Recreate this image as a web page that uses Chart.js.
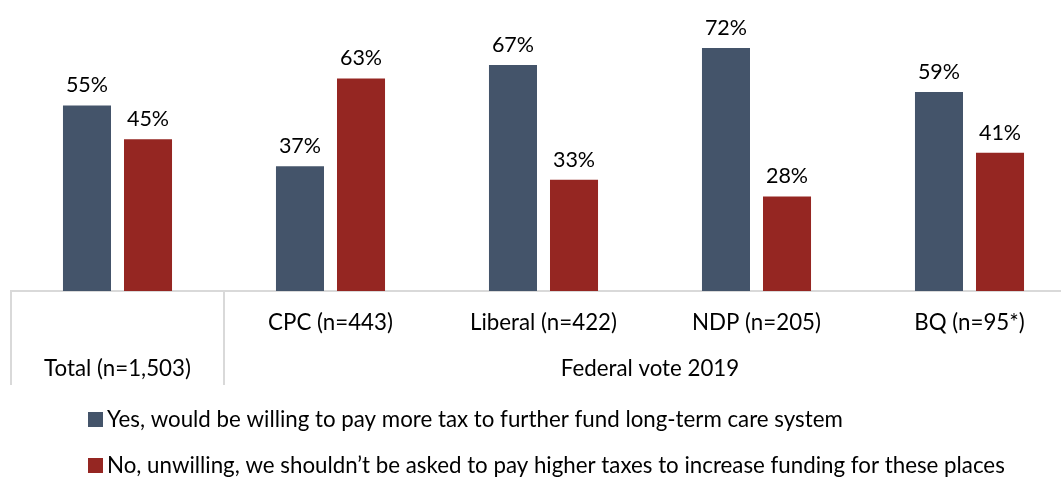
<!DOCTYPE html>
<html>
<head>
<meta charset="utf-8">
<script src="https://cdn.jsdelivr.net/npm/chart.js@4/dist/chart.umd.min.js"></script>
<style>
  html, body { margin: 0; padding: 0; background: #fff; overflow: hidden; }
  #wrap { width: 1076px; height: 477px; }
</style>
</head>
<body>
<div id="wrap"><canvas id="taxChart"></canvas></div>
<script>
var categories = [['', 'Total (n=1,503)'], 'CPC (n=443)', 'Liberal (n=422)', 'NDP (n=205)', 'BQ (n=95*)'];
var groupLabel = 'Federal vote 2019';
var yesLabel = 'Yes, would be willing to pay more tax to further fund long-term care system';
var noLabel = 'No, unwilling, we shouldn\u2019t be asked to pay higher taxes to increase funding for these places';
var yesValues = [55, 37, 67, 72, 59];
var noValues = [45, 63, 33, 28, 41];

var FONT = 'Lato';
var SIZE = 22.3;
var blue = '#44546a';
var red = '#952622';

// value labels, dividers under the axis, group label and legend
var extras = {
    id: 'extras',
    afterDatasetsDraw: function (chart) {
        var ctx = chart.ctx;
        ctx.save();
        ctx.font = '21.5px ' + FONT;
        ctx.fillStyle = '#000';
        ctx.textAlign = 'center';
        ctx.textBaseline = 'middle';
        chart.data.datasets.forEach(function (ds, i) {
            chart.getDatasetMeta(i).data.forEach(function (bar, j) {
                ctx.fillText(ds.data[j] + '%', bar.x, bar.y - 20);
            });
        });
        ctx.restore();
    },
    afterDraw: function (chart) {
        var ctx = chart.ctx;
        var x = chart.scales.x;
        ctx.save();

        var mid = (x.getPixelForValue(0) + x.getPixelForValue(1)) / 2;
        ctx.strokeStyle = '#d9d9d9';
        ctx.lineWidth = 2;
        [x.left, mid].forEach(function (px) {
            ctx.beginPath();
            ctx.moveTo(Math.round(px), x.top);
            ctx.lineTo(Math.round(px), x.top + 94);
            ctx.stroke();
        });

        ctx.font = SIZE + 'px ' + FONT;
        ctx.fillStyle = '#000';
        ctx.textAlign = 'center';
        ctx.textBaseline = 'middle';
        var gx = (x.getPixelForValue(1) + x.getPixelForValue(4)) / 2;
        ctx.fillText(groupLabel, gx, x.top + 78);

        ctx.textAlign = 'left';
        chart.data.datasets.forEach(function (ds, i) {
            var rowY = x.bottom + 19 + i * 46;
            ctx.fillStyle = ds.backgroundColor;
            ctx.fillRect(88, rowY - 8, 15, 15);
            ctx.fillStyle = '#000';
            ctx.fillText(ds.label, 107, rowY);
        });
        ctx.restore();
    }
};

new Chart(document.getElementById('taxChart'), {
    type: 'bar',
    data: {
        labels: categories,
        datasets: [{
            label: yesLabel,
            data: yesValues,
            backgroundColor: blue,
            categoryPercentage: 0.573,
            barPercentage: 0.787
        }, {
            label: noLabel,
            data: noValues,
            backgroundColor: red,
            categoryPercentage: 0.573,
            barPercentage: 0.787
        }]
    },
    options: {
        responsive: true,
        maintainAspectRatio: false,
        devicePixelRatio: 1,
        animation: false,
        layout: {
            padding: { left: 11, right: 0, top: 21, bottom: 76 }
        },
        plugins: {
            legend: { display: false },
            tooltip: { enabled: false }
        },
        scales: {
            x: {
                grid: { display: false, drawTicks: false },
                border: { display: true, color: '#d9d9d9', width: 2 },
                ticks: {
                    color: '#000',
                    padding: 9,
                    maxRotation: 0,
                    autoSkip: false,
                    font: { family: FONT, size: SIZE, lineHeight: '46px' }
                }
            },
            y: {
                display: false,
                min: 0,
                max: 80
            }
        }
    },
    plugins: [extras]
});
</script>
</body>
</html>
